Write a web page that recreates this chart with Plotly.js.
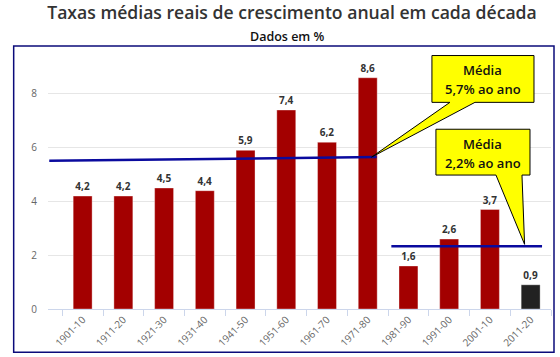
<!DOCTYPE html>
<html>
<head>
<meta charset="utf-8">
<script src="https://cdn.plot.ly/plotly-3.0.1.min.js"></script>
<style>html,body{margin:0;padding:0;background:#fff;}#chart{width:560px;height:357px;}</style>
</head>
<body>
<div id="chart"></div>
<script>
// ---- data ----
const decades = ["1901-10","1911-20","1921-30","1931-40","1941-50","1951-60","1961-70","1971-80","1981-90","1991-00","2001-10","2011-20"];
const growth = [4.2, 4.2, 4.5, 4.4, 5.9, 7.4, 6.2, 8.6, 1.6, 2.6, 3.7, 0.9];
const barColors = ["#a30000","#a30000","#a30000","#a30000","#a30000","#a30000","#a30000","#a30000","#a30000","#a30000","#a30000","#222222"];
const yTicks = [0, 2, 4, 6, 8];
// average lines (x in category index units, y in %)
const avg1X = [-0.82, 7.22];
const avg1Y = [5.51, 5.65];
const avg2X = [7.58, 11.28];
const avg2Y = [2.33, 2.33];
const callout1Lines = ["Média", "5,7% ao ano"];
const callout2Lines = ["Média", "2,2% ao ano"];

// ---- geometry ----
const W = 560, Hh = 357;
const L = 48.3, R = 9, T = 66.5, B = 47.5;
const PW = W - L - R, PH = Hh - T - B;
const YMAX = 9;
const catW = PW / decades.length;
const xpx = i => L + (i + 0.5) * catW;
const ypx = v => T + PH * (1 - v / YMAX);
const px2X = px => (px - L) / PW;
const px2Y = py => 1 - (py - T) / PH;
function pathPx(pts){
  return pts.map((p,i)=> (i?'L ':'M ') + px2X(p[0]).toFixed(5) + ',' + px2Y(p[1]).toFixed(5)).join(' ') + ' Z';
}

const tip1 = [xpx(avg1X[1]), ypx(avg1Y[1])];
const tip2 = [xpx(avg2X[1] - 0.41), ypx(avg2Y[1]) - 2];

const box1 = {x0:432, y0:55, x1:534, y1:102, b0:450, b1:475};
const box2 = {x0:436, y0:129, x1:530, y1:175, b0:496, b1:522};
function calloutPath(b, tip){
  return pathPx([[b.x0,b.y0],[b.x1,b.y0],[b.x1,b.y1],[b.b1,b.y1],tip,[b.b0,b.y1],[b.x0,b.y1]]);
}

const trace = {
  type: 'bar',
  x: decades,
  y: growth,
  marker: {color: barColors, line: {color: 'rgba(255,255,255,0.35)', width: 1}},
  texttemplate: '%{y:.1f}',
  textposition: 'outside',
  textfont: {family: 'Open Sans', size: 10, color: '#333333', weight: 700},
  cliponaxis: false,
  hoverinfo: 'none'
};

const shapes = [
  {type:'rect', xref:'paper', yref:'paper', x0:px2X(14), x1:px2X(554), y0:px2Y(45.5), y1:px2Y(353),
   line:{color:'#0b0b7a', width:1.5}, fillcolor:'rgba(0,0,0,0)', layer:'below'},
  {type:'line', xref:'x', yref:'y', x0:avg1X[0], x1:avg1X[1], y0:avg1Y[0], y1:avg1Y[1],
   line:{color:'#0a0a9e', width:2.5}},
  {type:'line', xref:'x', yref:'y', x0:avg2X[0], x1:avg2X[1], y0:avg2Y[0], y1:avg2Y[1],
   line:{color:'#0a0a9e', width:2.5}},
  {type:'path', xref:'paper', yref:'paper', path: calloutPath(box1, tip1),
   fillcolor:'#ffff00', line:{color:'#000000', width:1}, layer:'above'},
  {type:'path', xref:'paper', yref:'paper', path: calloutPath(box2, tip2),
   fillcolor:'#ffff00', line:{color:'#000000', width:1}, layer:'above'}
];

const cf = {family:'Open Sans', size:13, color:'#111111', weight:600};
const annotations = [
  {xref:'paper', yref:'paper', x:px2X((box1.x0+box1.x1)/2), y:px2Y(70), text:callout1Lines[0], showarrow:false, font:cf, xanchor:'center', yanchor:'middle'},
  {xref:'paper', yref:'paper', x:px2X((box1.x0+box1.x1)/2), y:px2Y(89), text:callout1Lines[1], showarrow:false, font:cf, xanchor:'center', yanchor:'middle'},
  {xref:'paper', yref:'paper', x:px2X((box2.x0+box2.x1)/2), y:px2Y(144), text:callout2Lines[0], showarrow:false, font:cf, xanchor:'center', yanchor:'middle'},
  {xref:'paper', yref:'paper', x:px2X((box2.x0+box2.x1)/2), y:px2Y(163), text:callout2Lines[1], showarrow:false, font:cf, xanchor:'center', yanchor:'middle'},
  {xref:'paper', yref:'paper', x:px2X(288), y:px2Y(36), text:'Dados em %', showarrow:false,
   font:{family:'Open Sans', size:12.5, color:'#111111', weight:600}, xanchor:'center', yanchor:'middle'}
];

const layout = {
  width: W, height: Hh,
  margin: {l:L, r:R, t:T, b:B, pad:0},
  paper_bgcolor: '#ffffff', plot_bgcolor: '#ffffff',
  font: {family:'Open Sans', size:10, color:'#666666'},
  separators: ',.',
  showlegend: false,
  bargap: 0.535,
  title: {text:'Taxas médias reais de crescimento anual em cada década',
          font:{family:'Open Sans', size:17.6, color:'#333333', weight:600},
          x: 292/W, xanchor:'center', xref:'container', y: 1 - 12.5/Hh, yanchor:'middle', yref:'container'},
  xaxis: {type:'category', tickangle:-45, tickson:'boundaries', ticks:'outside', ticklen:6, tickcolor:'#ccd6eb',
          showline:true, linecolor:'#ccd6eb', linewidth:1, showgrid:false, zeroline:false,
          tickfont:{family:'Open Sans', size:10, color:'#666666'}, fixedrange:true},
  yaxis: {range:[0, YMAX], tickvals:yTicks, ticktext:yTicks.map(String), showgrid:true, gridcolor:'#e6e6e6', gridwidth:1,
          zeroline:false, showline:false, ticks:'', ticklabelstandoff:10,
          tickfont:{family:'Open Sans', size:10, color:'#666666'}, fixedrange:true},
  shapes: shapes,
  annotations: annotations
};

Plotly.newPlot('chart', [trace], layout, {staticPlot:true, displayModeBar:false});
</script>
</body>
</html>
